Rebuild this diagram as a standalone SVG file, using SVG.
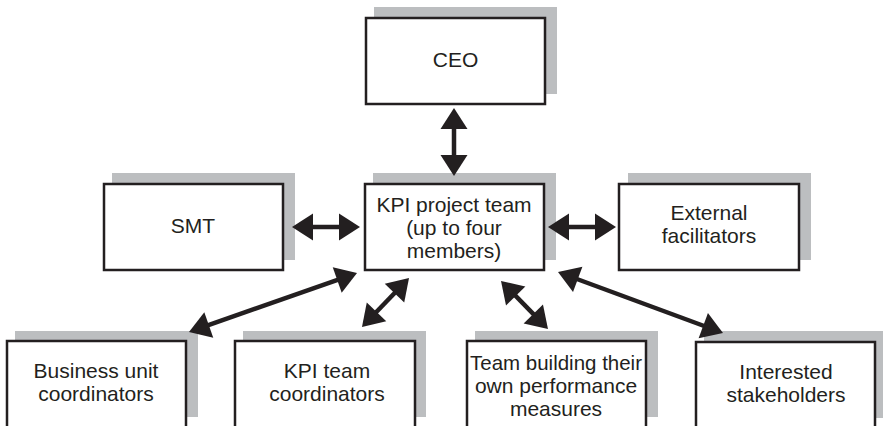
<svg xmlns="http://www.w3.org/2000/svg" width="883" height="426" viewBox="0 0 883 426">
<style>
.sh{fill:#bcbec0;}
.bx{fill:#ffffff;stroke:#231f20;stroke-width:2.5;}
.t{font-family:"Liberation Sans",Arial,sans-serif;font-size:21px;fill:#231f20;text-anchor:middle;}
.ar{stroke:#231f20;stroke-width:4.5;fill:none;marker-start:url(#ah);marker-end:url(#ah);}
</style>
<defs>
<marker id="ah" markerUnits="userSpaceOnUse" markerWidth="21" markerHeight="27" refX="11" refY="13.5" orient="auto-start-reverse" overflow="visible">
<path d="M0,0 L21,13.5 L0,27 Z" fill="#231f20"/>
</marker>
</defs>
<rect width="883" height="426" fill="#ffffff"/>
<g id="ceo">
<rect class="sh" x="374" y="7" width="183" height="87"/>
<rect class="bx" x="366" y="18" width="179" height="86"/>
<text class="t" x="455.5" y="67">CEO</text>
</g>
<g id="smt">
<rect class="sh" x="112" y="173" width="183" height="87"/>
<rect class="bx" x="104" y="184" width="179" height="86"/>
<text class="t" x="193" y="233">SMT</text>
</g>
<g id="kpi-project-team">
<rect class="sh" x="373" y="173" width="183" height="87"/>
<rect class="bx" x="365" y="184" width="179" height="86"/>
<text class="t" x="454" y="212">KPI project team</text>
<text class="t" x="454" y="235">(up to four</text>
<text class="t" x="454" y="258">members)</text>
</g>
<g id="external-facilitators">
<rect class="sh" x="628" y="173" width="183" height="87"/>
<rect class="bx" x="619" y="184" width="180" height="86"/>
<text class="t" x="709" y="220">External</text>
<text class="t" x="709" y="243">facilitators</text>
</g>
<g id="business-unit-coordinators">
<rect class="sh" x="15" y="331" width="183" height="86"/>
<rect class="bx" x="7" y="341" width="179" height="88"/>
<text class="t" x="96" y="378">Business unit</text>
<text class="t" x="96" y="401">coordinators</text>
</g>
<g id="kpi-team-coordinators">
<rect class="sh" x="243" y="331" width="183" height="86"/>
<rect class="bx" x="235" y="341" width="180" height="88"/>
<text class="t" x="327" y="378">KPI team</text>
<text class="t" x="327" y="401">coordinators</text>
</g>
<g id="team-building">
<rect class="sh" x="475" y="331" width="183" height="86"/>
<rect class="bx" x="467" y="341" width="179" height="88"/>
<text class="t" x="556" y="370" textLength="172" lengthAdjust="spacingAndGlyphs">Team building their</text>
<text class="t" x="556" y="393">own performance</text>
<text class="t" x="556" y="416">measures</text>
</g>
<g id="interested-stakeholders">
<rect class="sh" x="704" y="331" width="183" height="87"/>
<rect class="bx" x="696" y="342" width="179" height="88"/>
<text class="t" x="786" y="379">Interested</text>
<text class="t" x="786" y="402">stakeholders</text>
</g>
<g id="connectors">
<line class="ar" x1="454" y1="118" x2="454" y2="166"/>
<line class="ar" x1="302" y1="227" x2="350" y2="227"/>
<line class="ar" x1="558" y1="227" x2="606" y2="227"/>
<line class="ar" x1="198.4" y1="328.7" x2="347.6" y2="276.3"/>
<line class="ar" x1="368.9" y1="319.8" x2="402.1" y2="285.2"/>
<line class="ar" x1="508" y1="288.1" x2="541" y2="321.9"/>
<line class="ar" x1="567.4" y1="275.5" x2="713.6" y2="329.5"/>
</g>
</svg>
